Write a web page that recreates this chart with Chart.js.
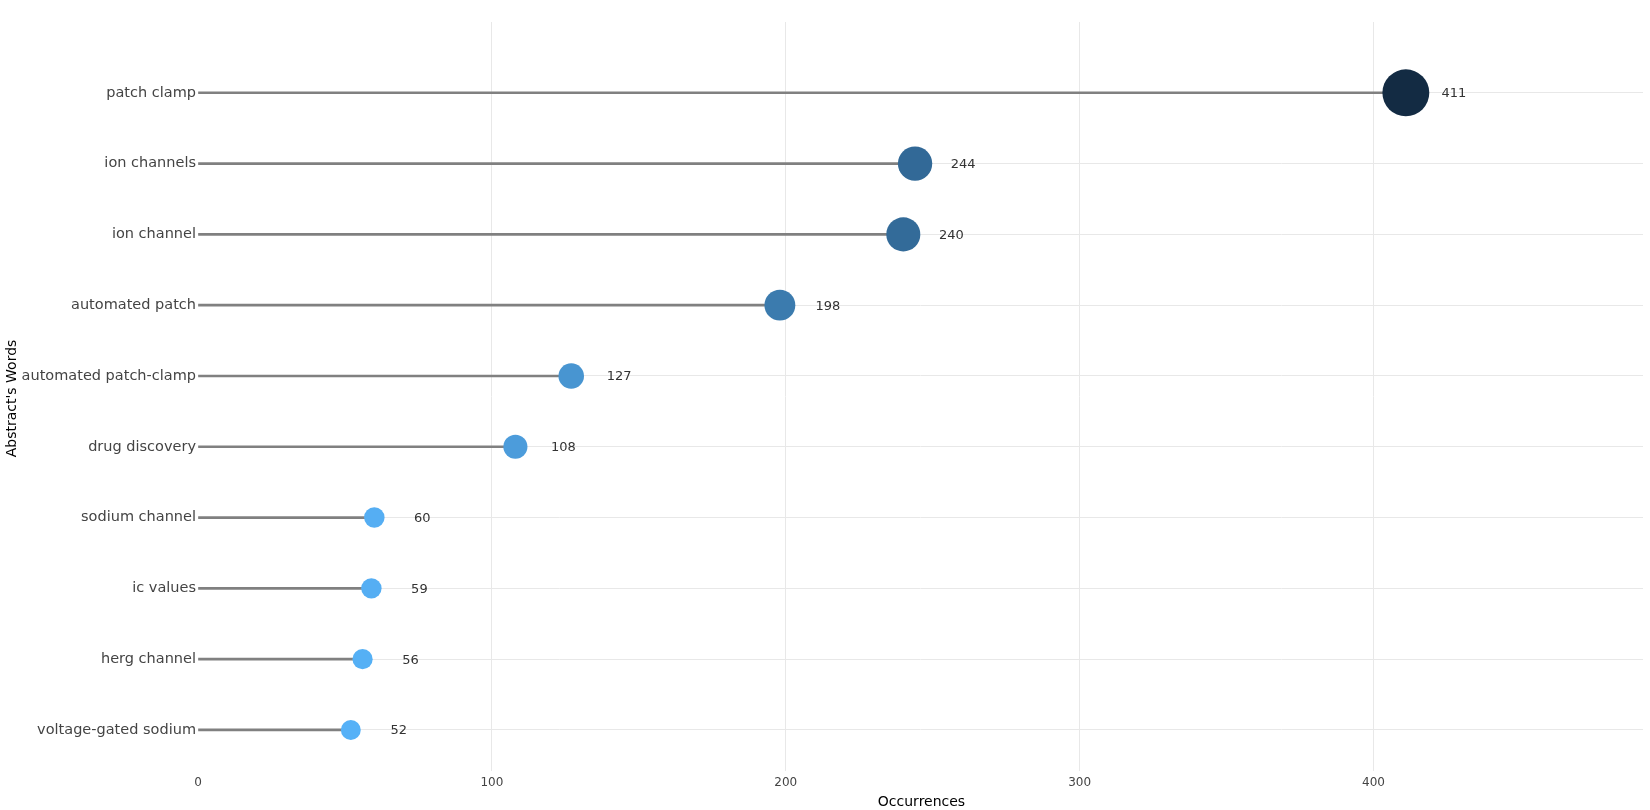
<!DOCTYPE html>
<html>
<head>
<meta charset="utf-8">
<script src="https://cdn.jsdelivr.net/npm/chart.js@4/dist/chart.umd.min.js"></script>
<style>
  body { margin: 0; background: #fff; }
  #wrap { width: 1650px; height: 810px; position: relative; }
</style>
</head>
<body>
<div id="wrap"><canvas id="lollipop"></canvas></div>
<script>
const words = ['patch clamp', 'ion channels', 'ion channel', 'automated patch', 'automated patch-clamp',
  'drug discovery', 'sodium channel', 'ic values', 'herg channel', 'voltage-gated sodium'];
const occurrences = [411, 244, 240, 198, 127, 108, 60, 59, 56, 52];
const xTicks = [0, 100, 200, 300, 400];

const FONT = "'DejaVu Sans', Verdana, sans-serif";

// ggplot-like gradient, light for small counts, dark for big ones
const lo = [86, 177, 247], hi = [19, 43, 67];
const vMin = Math.min(...occurrences), vMax = Math.max(...occurrences);
function colorFor(v) {
  const t = (v - vMin) / (vMax - vMin);
  const c = lo.map((a, k) => Math.round(a + (hi[k] - a) * t));
  return 'rgb(' + c.join(',') + ')';
}
function radiusFor(v) {
  return 8 + v * 0.0376;
}

// numbers next to the dots + axis titles
const extras = {
  id: 'extras',
  afterDatasetsDraw(chart) {
    const ctx = chart.ctx;
    const meta = chart.getDatasetMeta(1);
    ctx.save();
    ctx.font = '13px ' + FONT;
    ctx.fillStyle = '#333';
    ctx.textAlign = 'center';
    ctx.textBaseline = 'middle';
    meta.data.forEach((pt, i) => {
      ctx.fillText(String(occurrences[i]), pt.x + 48, pt.y + 1);
    });
    const area = chart.chartArea;
    ctx.font = '14px ' + FONT;
    ctx.fillStyle = '#000';
    ctx.fillText('Occurrences', (area.left + area.right) / 2 + 1, 802);
    ctx.translate(12, (area.top + area.bottom) / 2 + 2);
    ctx.rotate(-Math.PI / 2);
    ctx.fillText("Abstract's Words", 0, 0);
    ctx.restore();
  }
};

new Chart(document.getElementById('lollipop'), {
  type: 'scatter',
  data: {
    datasets: [
      {
        type: 'bar',
        indexAxis: 'y',
        order: 2,
        data: occurrences.map((v, i) => ({ x: v, y: i })),
        backgroundColor: '#808080',
        barThickness: 2
      },
      {
        type: 'scatter',
        order: 1,
        data: occurrences.map((v, i) => ({ x: v, y: i })),
        pointRadius: occurrences.map(radiusFor),
        pointBackgroundColor: occurrences.map(colorFor),
        pointBorderWidth: 0
      }
    ]
  },
  options: {
    responsive: true,
    maintainAspectRatio: false,
    animation: false,
    events: [],
    layout: { autoPadding: false, padding: { top: 22, right: 7, left: 0, bottom: 0 } },
    plugins: {
      legend: { display: false },
      tooltip: { enabled: false }
    },
    scales: {
      x: {
        type: 'linear',
        min: 0,
        max: 491.7,
        offset: false,
        afterBuildTicks: s => { s.ticks = xTicks.map(v => ({ value: v })); },
        afterFit: s => { s.height = 39; s.paddingLeft = 0; s.paddingRight = 0; },
        border: { display: false },
        grid: {
          offset: false,
          drawTicks: false,
          color: ctx => ctx.tick && ctx.tick.value === 0 ? 'rgba(0,0,0,0)' : '#e8e8e8'
        },
        ticks: { padding: 5, color: '#444', font: { family: FONT, size: 12 } }
      },
      y: {
        type: 'linear',
        reverse: true,
        min: -1,
        max: 9.58,
        offset: false,
        afterBuildTicks: s => { s.ticks = words.map((w, i) => ({ value: i })); },
        afterFit: s => { s.width = 198; s.paddingTop = 0; s.paddingBottom = 0; },
        border: { display: false },
        grid: { offset: false, drawTicks: false, color: '#e8e8e8' },
        ticks: {
          padding: 2,
          color: '#444',
          font: { family: FONT, size: 14.5 },
          callback: v => words[v]
        }
      }
    }
  },
  plugins: [extras]
});
</script>
</body>
</html>
